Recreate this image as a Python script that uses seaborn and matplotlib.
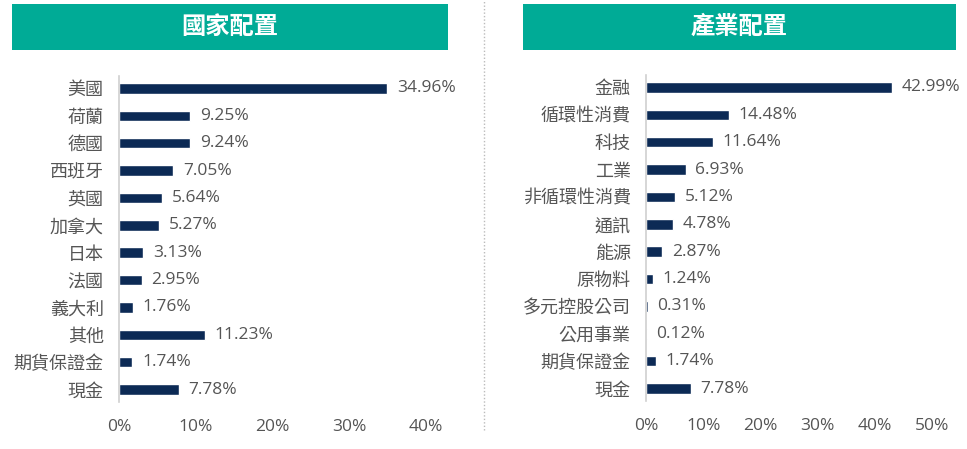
import numpy as np
import pandas as pd
import seaborn as sns
import matplotlib.pyplot as plt
from matplotlib.patches import Rectangle
from matplotlib.lines import Line2D

# 國家配置
country_labels = ['美國', '荷蘭', '德國', '西班牙', '英國', '加拿大', '日本', '法國',
                  '義大利', '其他', '期貨保證金', '現金']
country_values = [34.96, 9.25, 9.24, 7.05, 5.64, 5.27, 3.13, 2.95, 1.76, 11.23, 1.74, 7.78]
country_ticks = [0, 10, 20, 30, 40]

# 產業配置
sector_labels = ['金融', '循環性消費', '科技', '工業', '非循環性消費', '通訊', '能源', '原物料',
                 '多元控股公司', '公用事業', '期貨保證金', '現金']
sector_values = [42.99, 14.48, 11.64, 6.93, 5.12, 4.78, 2.87, 1.24, 0.31, 0.12, 1.74, 7.78]
sector_ticks = [0, 10, 20, 30, 40, 50]

titles = ['國家配置', '產業配置']

sns.set_theme(style='white')
plt.rcParams['font.family'] = ['Open Sans', 'Noto Sans CJK TC', 'DejaVu Sans']

BAR = '#0c2a55'
TEAL = '#00ab96'
TXT = '#555555'

W, H = 967, 449
fig = plt.figure(figsize=(W / 100, H / 100), dpi=100)


def px_axes(x0, x1, y0, y1):
    return fig.add_axes([x0 / W, 1 - y1 / H, (x1 - x0) / W, (y1 - y0) / H])


def draw_panel(ax, labels, values, ticks):
    df = pd.DataFrame({'label': labels, 'value': values})
    sns.barplot(data=df, x='value', y='label', color=BAR, width=0.38,
                saturation=1, ax=ax, orient='h')
    ax.set_xlim(ticks[0], ticks[-1])
    ax.set_ylim(len(labels) - 0.55, -0.45)
    ax.set_xticks(ticks)
    ax.set_xticklabels([f'{t}%' for t in ticks])
    ax.set_xlabel('')
    ax.set_ylabel('')
    for s in ['top', 'right', 'bottom']:
        ax.spines[s].set_visible(False)
    ax.spines['left'].set_color('#d0d0d0')
    ax.spines['left'].set_linewidth(1.2)
    ax.tick_params(axis='y', length=0, pad=11, labelsize=13, labelcolor=TXT)
    ax.tick_params(axis='x', length=0, pad=12, labelsize=12.5, labelcolor=TXT)
    for lab in ax.get_yticklabels():
        lab.set_family(['Noto Sans CJK TC', 'DejaVu Sans'])
    for i, v in enumerate(values):
        ax.annotate(f'{v:.2f}%', (v, i), xytext=(7, 0), textcoords='offset points',
                    va='center', ha='left', fontsize=12.5, color=TXT)
    ax.set_facecolor('none')


ax1 = px_axes(119, 426, 76, 402)
draw_panel(ax1, country_labels, country_values, country_ticks)
ax2 = px_axes(646, 932, 75, 401)
draw_panel(ax2, sector_labels, sector_values, sector_ticks)

# headers
for (x0, x1), t in zip([(12, 448), (523, 956)], titles):
    fig.add_artist(Rectangle((x0 / W, 1 - 50 / H), (x1 - x0) / W, 46 / H,
                             transform=fig.transFigure, facecolor=TEAL, edgecolor='none'))
    fig.text((x0 + x1) / 2 / W, 1 - 27 / H, t, ha='center', va='center',
             color='white', fontsize=17.5, fontweight='bold',
             family=['Noto Sans CJK TC', 'DejaVu Sans'])

# separator
fig.add_artist(Line2D([484 / W, 484 / W], [1 - 430 / H, 1.0], transform=fig.transFigure,
                      color='#bbbbbb', linestyle=(0, (1, 1.5)), linewidth=1))

fig.savefig('out.png', dpi=100)
